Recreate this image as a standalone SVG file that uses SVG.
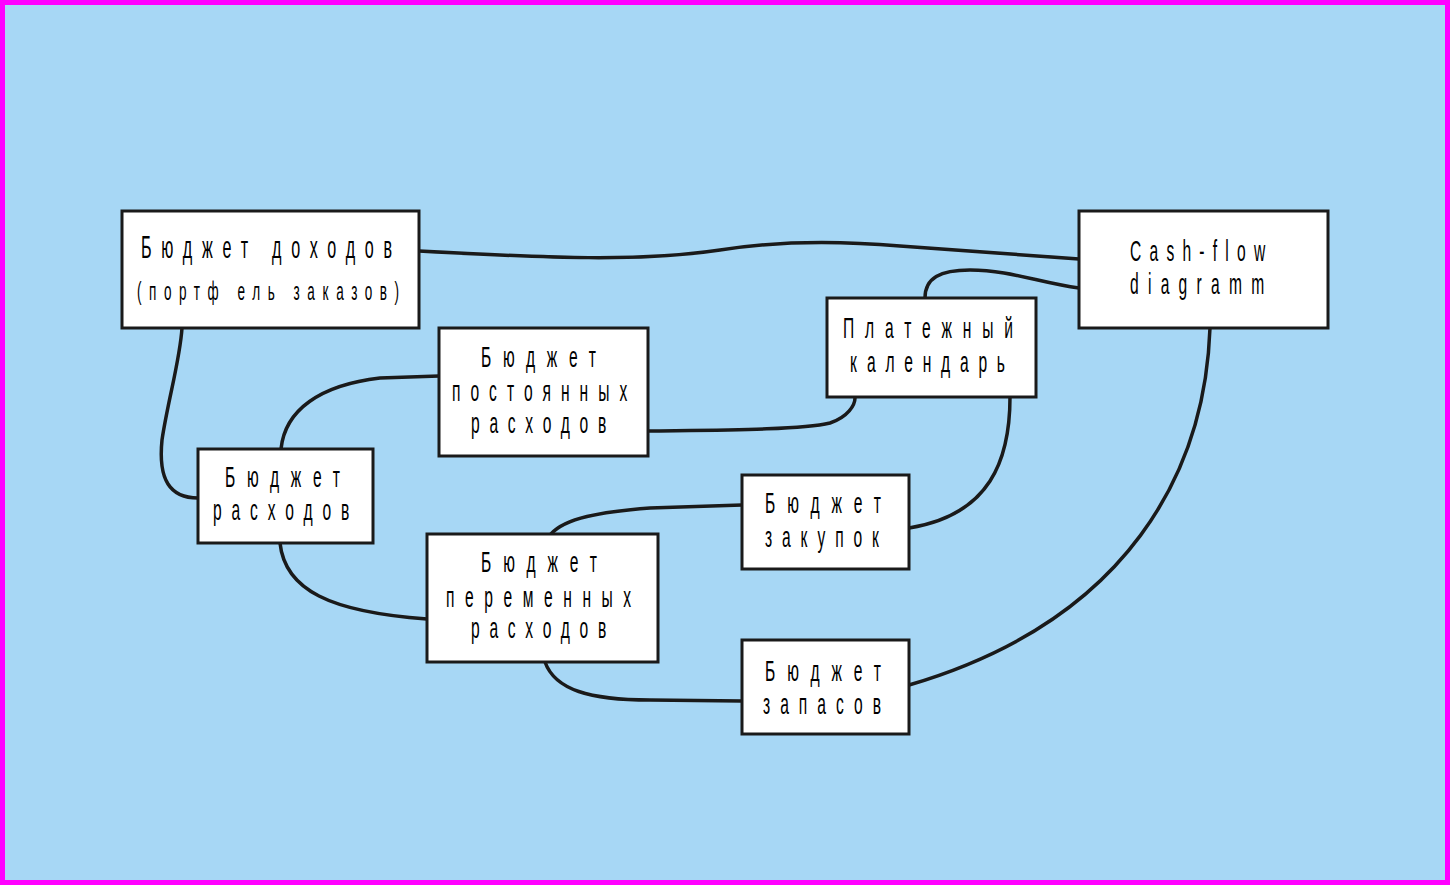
<svg xmlns="http://www.w3.org/2000/svg" width="1450" height="885" viewBox="0 0 1450 885">
<style>
.node rect{fill:#ffffff;stroke:#1a1a1a;stroke-width:3}
.node text{font-family:"Liberation Sans",Arial,sans-serif;font-size:30px;fill:#000}
.node text.big{font-size:31px}
.node text.small{font-size:26px}
.edges path{fill:none;stroke:#1a1a1a;stroke-width:3.5;stroke-linecap:round}
</style>
<rect x="2.5" y="2.5" width="1445" height="880" fill="#a7d7f5" stroke="#ff00ff" stroke-width="5"/>
<g class="edges" id="connectors">
<path d="M419,251 C550,258 640,262 720,250 C770,242 830,240 900,246 L1079,259"/>
<path d="M925,298 C925,278 940,270 970,270 C1010,270 1040,283 1079,288"/>
<path d="M182,328 C180,360 168,400 162,440 C158,480 170,498 198,498"/>
<path d="M281,449 C285,410 320,385 380,378 L439,376"/>
<path d="M648,431 C720,430 800,430 830,423 C848,417 855,405 855,398"/>
<path d="M1010,397 C1010,460 990,515 909,528"/>
<path d="M551,534 C565,518 600,512 650,508 L742,505"/>
<path d="M280,543 C285,590 330,612 427,619"/>
<path d="M545,662 C555,690 590,700 650,700 L742,701"/>
<path d="M1210,328 C1205,470 1130,620 909,685"/>
</g>
<g class="node" id="n-dohody">
<rect x="122" y="211" width="297" height="117"/>
<text class="big" transform="translate(141,258) scale(0.52,1)" textLength="483" lengthAdjust="spacing">Бюджет доходов</text>
<text class="small" transform="translate(137,300) scale(0.52,1)" textLength="504" lengthAdjust="spacing">(портф ель заказов)</text>
</g>
<g class="node" id="n-cashflow">
<rect x="1079" y="211" width="249" height="117"/>
<text transform="translate(1130,261) scale(0.52,1)" textLength="260" lengthAdjust="spacing">Cash-flow</text>
<text transform="translate(1130,294) scale(0.52,1)" textLength="258" lengthAdjust="spacing">diagramm</text>
</g>
<g class="node" id="n-postoyannye">
<rect x="439" y="328" width="209" height="128"/>
<text transform="translate(481,367) scale(0.52,1)" textLength="221" lengthAdjust="spacing">Бюджет</text>
<text transform="translate(452,401) scale(0.52,1)" textLength="337" lengthAdjust="spacing">постоянных</text>
<text transform="translate(471,433) scale(0.52,1)" textLength="260" lengthAdjust="spacing">расходов</text>
</g>
<g class="node" id="n-raskhody">
<rect x="198" y="449" width="175" height="94"/>
<text transform="translate(225,487) scale(0.52,1)" textLength="221" lengthAdjust="spacing">Бюджет</text>
<text transform="translate(213,520) scale(0.52,1)" textLength="262" lengthAdjust="spacing">расходов</text>
</g>
<g class="node" id="n-kalendar">
<rect x="827" y="298" width="209" height="99"/>
<text transform="translate(843,338) scale(0.52,1)" textLength="327" lengthAdjust="spacing">Платежный</text>
<text transform="translate(850,372) scale(0.52,1)" textLength="298" lengthAdjust="spacing">календарь</text>
</g>
<g class="node" id="n-peremennye">
<rect x="427" y="534" width="231" height="128"/>
<text transform="translate(481,572) scale(0.52,1)" textLength="223" lengthAdjust="spacing">Бюджет</text>
<text transform="translate(446,607) scale(0.52,1)" textLength="356" lengthAdjust="spacing">переменных</text>
<text transform="translate(471,638) scale(0.52,1)" textLength="260" lengthAdjust="spacing">расходов</text>
</g>
<g class="node" id="n-zakupki">
<rect x="742" y="475" width="167" height="94"/>
<text transform="translate(765,513) scale(0.52,1)" textLength="223" lengthAdjust="spacing">Бюджет</text>
<text transform="translate(765,547) scale(0.52,1)" textLength="219" lengthAdjust="spacing">закупок</text>
</g>
<g class="node" id="n-zapasy">
<rect x="742" y="640" width="167" height="94"/>
<text transform="translate(765,681) scale(0.52,1)" textLength="223" lengthAdjust="spacing">Бюджет</text>
<text transform="translate(763,714) scale(0.52,1)" textLength="227" lengthAdjust="spacing">запасов</text>
</g>
</svg>
